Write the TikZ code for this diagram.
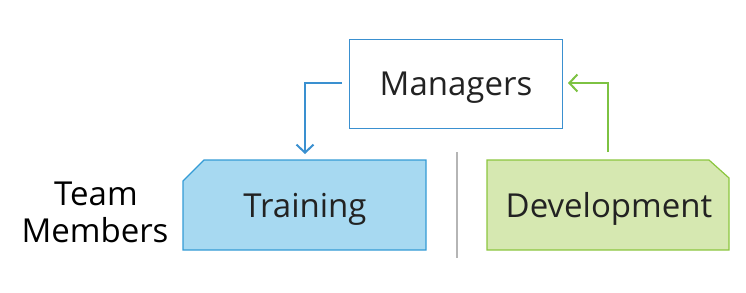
\documentclass[tikz,border=0pt]{standalone}
\usepackage{fontspec}
\setmainfont{Open Sans}
\usetikzlibrary{arrows.meta}
\definecolor{mblue}{HTML}{3A90D0}
\definecolor{tfill}{HTML}{A7D9F1}
\definecolor{dfill}{HTML}{D6E8B1}
\definecolor{dgreen}{HTML}{8CC63F}
\definecolor{agreen}{HTML}{7DC242}
\definecolor{sepgray}{HTML}{B5B5B5}
\definecolor{txt}{HTML}{222222}
\tikzset{
  lbl/.style={font=\fontsize{33}{37}\selectfont, text=txt, inner sep=0pt, anchor=base},
  conn/.style={line width=2pt, -{Straight Barb[length=8pt,width=17pt,line width=2pt]}},
}
\begin{document}
\begin{tikzpicture}[x=1pt,y=-1pt]
\useasboundingbox (0,0) rectangle (746,292);
% Managers
\node[draw=mblue, line width=1.3pt, minimum width=213pt, minimum height=89pt, inner sep=0pt] (mgr) at (456,84) {};
\node[lbl] (mgrtxt) at (456,95) {Managers};
% Training shape
\draw[draw=mblue!90!cyan, fill=tfill, line width=1.2pt] (204,160) -- (426,160) -- (426,250) -- (183,250) -- (183,181) -- cycle;
\node[lbl] (train) at (305,217) {Training};
\coordinate (trainend) at (305,154);
% Development shape
\draw[draw=dgreen, fill=dfill, line width=1.2pt] (487,160) -- (709,160) -- (729,178) -- (729,250) -- (487,250) -- cycle;
\node[lbl] (dev) at (609,217) {Development};
\coordinate (devtop) at (608,152);
% separator
\draw[sepgray, line width=1.5pt] (457,152) -- (457,258);
% Team Members
\node[lbl, text=black] (team) at (96,205) {Team};
\node[lbl, text=black] (members) at (95,242) {Members};
% connectors
\coordinate (mgrl) at (342,83);
\coordinate (mgrr) at (568,83);
\draw[conn, draw=mblue] (mgrl) -| (trainend);
\draw[conn, draw=agreen] (devtop) |- (mgrr);
\end{tikzpicture}
\end{document}
